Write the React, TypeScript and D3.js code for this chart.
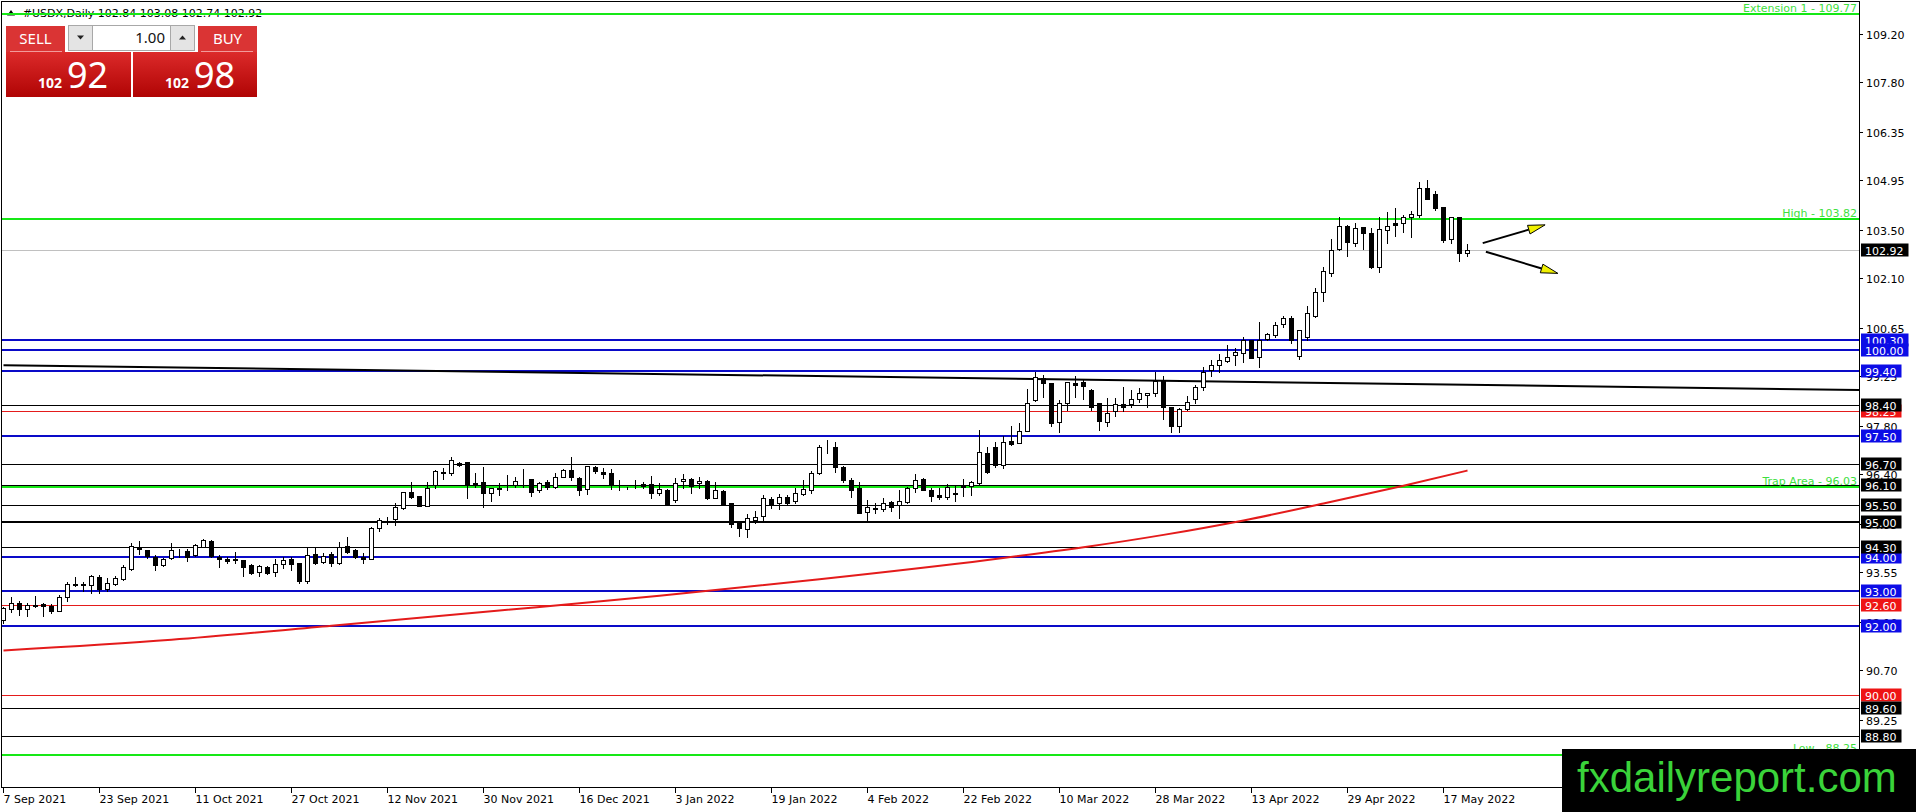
import { useEffect } from "react";
import * as d3 from "d3";

// daily bars, 7 Sep 2021 .. 20 May 2022 (one per weekday)
const opens = [
  92.17, 92.48, 92.65, 92.48, 92.58, 92.62, 92.57, 92.44, 92.83, 93.2,
  93.21, 93.18, 93.41, 93.06, 93.21, 93.35, 93.65, 94.3, 94.2, 94.01,
  93.75, 93.96, 94.19, 94.17, 94.06, 94.3, 94.46, 93.99, 93.95, 93.93,
  93.91, 93.75, 93.57, 93.7, 93.57, 93.79, 93.93, 93.81, 93.31, 94.09,
  93.86, 94.08, 93.81, 94.32, 94.2, 94.01, 93.94, 94.83, 95.07, 95.09,
  95.41, 95.88, 95.77, 95.48, 96.09, 96.45, 96.43, 96.74, 96.76, 96.14,
  96.17, 95.87, 95.98, 96.08, 96.09, 96.25, 96.25, 95.95, 96.17, 96.04,
  96.31, 96.53, 96.28, 95.96, 96.6, 96.48, 96.43, 96.0, 95.99, 96.04,
  96.11, 96.12, 95.87, 95.94, 95.64, 96.22, 96.26, 96.14, 96.21, 95.7,
  95.92, 95.56, 94.98, 94.81, 95.07, 95.2, 95.68, 95.56, 95.73, 95.61,
  95.82, 95.94, 96.43, 97.18, 97.19, 96.6, 96.24, 95.99, 95.3, 95.39,
  95.38, 95.59, 95.51, 95.59, 95.99, 96.25, 95.94, 95.8, 95.75, 95.84,
  96.04, 96.06, 96.16, 97.01, 97.19, 96.67, 97.37, 97.32, 97.67, 98.56,
  99.19, 99.05, 97.93, 98.46, 99.05, 99.07, 98.85, 98.46, 97.93, 98.25,
  98.43, 98.43, 98.58, 98.7, 98.76, 99.12, 98.37, 97.79, 98.29, 98.58,
  98.93, 99.43, 99.58, 99.7, 99.87, 99.92, 100.3, 99.8, 100.32, 100.45,
  100.77, 100.93, 99.85, 100.38, 101.0, 101.71, 102.26, 102.94, 103.62, 103.13,
  103.58, 103.42, 102.42, 103.5, 103.71, 103.7, 103.87, 103.94, 104.71, 104.55,
  104.16, 103.25, 103.87, 102.84,
];
const highs = [
  92.55, 92.83, 92.72, 92.67, 92.86, 92.65, 92.62, 92.9, 93.28, 93.41,
  93.28, 93.48, 93.47, 93.38, 93.43, 93.77, 94.4, 94.46, 94.2, 94.06,
  93.96, 94.4, 94.22, 94.22, 94.38, 94.52, 94.49, 94.06, 93.99, 94.15,
  93.91, 93.79, 93.76, 93.74, 93.93, 93.99, 93.99, 93.83, 94.25, 94.25,
  94.1, 94.15, 94.44, 94.57, 94.22, 94.1, 94.86, 95.14, 95.15, 95.58,
  95.9, 96.19, 95.77, 96.19, 96.53, 96.57, 96.89, 96.76, 96.76, 96.43,
  96.62, 95.99, 96.14, 96.38, 96.33, 96.55, 96.27, 96.19, 96.24, 96.43,
  96.55, 96.89, 96.31, 96.64, 96.64, 96.57, 96.55, 96.24, 96.04, 96.24,
  96.19, 96.35, 96.14, 95.97, 96.28, 96.4, 96.28, 96.33, 96.24, 96.19,
  95.95, 95.58, 95.0, 95.25, 95.32, 95.8, 95.75, 95.83, 95.8, 95.99,
  96.24, 96.51, 97.25, 97.4, 97.35, 96.64, 96.28, 96.19, 95.65, 95.58,
  95.7, 95.61, 95.94, 96.02, 96.4, 96.28, 95.99, 95.99, 96.12, 96.09,
  96.25, 96.21, 97.69, 97.2, 97.35, 97.51, 97.79, 97.9, 98.87, 99.38,
  99.29, 99.05, 98.56, 99.09, 99.26, 99.16, 98.87, 98.48, 98.61, 98.61,
  98.93, 98.85, 98.9, 98.76, 99.36, 99.26, 98.37, 98.32, 98.68, 98.99,
  99.51, 99.72, 99.9, 100.16, 100.06, 100.4, 100.3, 100.84, 100.52, 100.84,
  101.0, 101.0, 100.6, 101.29, 101.81, 102.42, 103.23, 103.87, 103.65, 103.7,
  103.6, 103.55, 103.87, 104.03, 104.13, 103.94, 104.06, 104.91, 104.95, 104.62,
  104.18, 103.87, 103.87, 103.08,
];
const lows = [
  92.07, 92.41, 92.31, 92.27, 92.53, 92.27, 92.38, 92.42, 92.73, 93.14,
  93.02, 92.94, 92.94, 93.02, 93.19, 93.33, 93.62, 94.09, 93.96, 93.62,
  93.74, 93.93, 94.01, 93.89, 94.03, 94.3, 94.01, 93.72, 93.83, 93.81,
  93.45, 93.5, 93.45, 93.5, 93.43, 93.67, 93.62, 93.23, 93.25, 93.79,
  93.81, 93.74, 93.79, 94.12, 93.96, 93.83, 93.93, 94.76, 94.96, 94.93,
  95.38, 95.7, 95.48, 95.48, 95.99, 96.25, 96.38, 96.64, 95.7, 96.04,
  95.46, 95.61, 95.8, 95.95, 96.04, 96.04, 95.77, 95.9, 95.97, 95.99,
  96.31, 96.24, 95.8, 95.83, 96.43, 96.28, 95.96, 95.95, 95.96, 95.99,
  95.99, 95.7, 95.8, 95.51, 95.6, 95.99, 95.85, 95.99, 95.67, 95.7,
  95.51, 94.86, 94.61, 94.59, 94.99, 95.07, 95.43, 95.38, 95.54, 95.56,
  95.8, 95.87, 96.41, 97.01, 96.48, 96.19, 95.75, 95.27, 95.07, 95.29,
  95.34, 95.34, 95.12, 95.56, 95.88, 95.93, 95.63, 95.68, 95.67, 95.61,
  95.77, 95.8, 96.12, 96.43, 96.62, 96.58, 97.25, 97.3, 97.67, 98.54,
  98.66, 97.79, 97.64, 98.27, 98.64, 98.58, 98.27, 97.69, 97.79, 98.1,
  98.25, 98.35, 98.51, 98.37, 98.68, 98.0, 97.64, 97.64, 98.27, 98.46,
  98.85, 99.26, 99.38, 99.67, 99.58, 99.67, 99.77, 99.51, 100.29, 100.4,
  100.67, 100.21, 99.74, 100.3, 100.96, 101.45, 102.17, 102.92, 102.75, 103.04,
  102.94, 102.39, 102.29, 103.13, 103.33, 103.45, 103.29, 103.87, 104.4, 104.08,
  103.16, 103.13, 102.61, 102.74,
];
const closes = [
  92.51, 92.67, 92.48, 92.6, 92.6, 92.57, 92.44, 92.83, 93.2, 93.19,
  93.18, 93.45, 93.06, 93.23, 93.38, 93.7, 94.32, 94.22, 94.04, 93.75,
  93.95, 94.2, 94.21, 94.01, 94.34, 94.49, 94.03, 93.93, 93.89, 93.91,
  93.72, 93.54, 93.73, 93.54, 93.79, 93.91, 93.8, 93.31, 94.06, 93.83,
  94.04, 93.81, 94.28, 94.15, 94.01, 93.94, 94.83, 95.07, 95.08, 95.46,
  95.88, 95.73, 95.48, 95.99, 96.5, 96.48, 96.82, 96.67, 96.09, 96.1,
  95.85, 95.99, 96.0, 96.1, 96.22, 96.26, 95.9, 96.16, 96.02, 96.31,
  96.53, 96.31, 95.95, 96.64, 96.5, 96.41, 96.09, 95.99, 95.99, 96.03,
  96.07, 95.85, 95.96, 95.54, 96.16, 96.25, 96.06, 96.21, 95.7, 95.93,
  95.54, 94.95, 94.83, 95.12, 95.17, 95.7, 95.54, 95.73, 95.58, 95.85,
  95.96, 96.43, 97.19, 97.19, 96.6, 96.24, 95.95, 95.29, 95.46, 95.42,
  95.58, 95.46, 95.63, 95.99, 96.24, 95.94, 95.77, 95.75, 96.02, 95.86,
  96.06, 96.19, 97.06, 96.48, 96.67, 97.35, 97.28, 97.67, 98.46, 99.22,
  99.06, 97.9, 98.48, 99.07, 99.0, 98.98, 98.35, 97.96, 98.17, 98.43,
  98.35, 98.58, 98.76, 98.75, 99.12, 98.37, 97.79, 98.29, 98.51, 98.95,
  99.38, 99.58, 99.72, 99.8, 99.95, 100.3, 99.79, 100.29, 100.48, 100.74,
  100.93, 100.3, 100.58, 101.08, 101.69, 102.31, 102.92, 103.62, 103.16, 103.55,
  103.42, 102.42, 103.52, 103.62, 103.66, 103.87, 103.97, 104.71, 104.4, 104.13,
  103.21, 103.87, 102.82, 102.92,
];

const dateLabels = [
  "7 Sep 2021", "23 Sep 2021", "11 Oct 2021", "27 Oct 2021", "12 Nov 2021",
  "30 Nov 2021", "16 Dec 2021", "3 Jan 2022", "19 Jan 2022", "4 Feb 2022",
  "22 Feb 2022", "10 Mar 2022", "28 Mar 2022", "13 Apr 2022", "29 Apr 2022",
  "17 May 2022",
];
const barsPerDateLabel = 12;

const priceTicks = [
  109.2, 107.8, 106.35, 104.95, 103.5, 102.1, 100.65, 99.25, 97.8, 96.4,
  94.95, 93.55, 92.1, 90.7, 89.25, 87.85,
];

// red moving average, read at a few bars
const maBars = [0, 21, 41, 62, 82, 102, 123, 135, 145, 155, 165, 175, 183];
const maValues = [91.28, 91.59, 92.0, 92.44, 92.87, 93.35, 93.91, 94.28, 94.64, 95.06, 95.55, 96.07, 96.51];

// black trend line, runs to the right edge
const trendBars = [0, 232];
const trendValues = [99.57, 98.85];

const zoneLevels = [109.77, 103.82, 96.03, 88.25];
const zoneNames = ["Extension 1", "High", "Trap Area", "Low"];
const redLevels = [98.25, 92.6, 90.0];
const blueLevels = [100.3, 100.0, 99.4, 97.5, 94.0, 93.0, 92.0];
const blackLevels = [98.4, 96.7, 96.1, 95.5, 94.3, 89.6, 88.8];
const boldBlackLevels = [95.0];
const bidLevel = 102.92;

const arrowBars = [[184.9, 192.7], [185.3, 194.3]];
const arrowValues = [[103.12, 103.65], [102.87, 102.24]];

const ohlcTitle = ["102.84", "103.08", "102.74", "102.92"];

const FONT = "'DejaVu Sans', Tahoma, sans-serif";
const UI_FONT = "'Noto Sans', 'Open Sans', sans-serif";
const GREEN = "#16e816";
const BLUE = "#0a0ac8";
const RED = "#e41b1b";

function App() {
  useEffect(() => {
    document.body.style.margin = "0";
  }, []);

  const width = 1916;
  const height = 812;
  const plotRight = 1859;
  const plotBottom = 788;

  const x = d3.scaleLinear().domain([0, 232]).range([3.5, 3.5 + 8 * 232]);
  const y = d3.scaleLinear().domain([92.0, 109.77]).range([625.7, 14.3]);
  const crisp = (v: number) => Math.round(v) + 0.5;

  const maPath = d3
    .line<number>()
    .x((_, k) => x(maBars[k]))
    .y((d) => y(d))
    .curve(d3.curveMonotoneX)(maValues);

  const trendPath = d3
    .line<number>()
    .x((_, k) => x(trendBars[k]))
    .y((d) => y(d))(trendValues);

  const boxWidth = (t: string) => t.replace(".", "").length * 7 + 3.5 + 9;

  const levelLine = (v: number, color: string, w: number, key: string) => {
    const yy = w % 2 === 1 ? crisp(y(v)) : Math.round(y(v));
    return <line key={key} x1={2} x2={plotRight} y1={yy} y2={yy} stroke={color} strokeWidth={w} />;
  };

  const priceBox = (v: number, fill: string, key: string) => {
    const t = v.toFixed(2);
    const yy = Math.round(y(v));
    return (
      <g key={key}>
        <rect x={1861} y={yy - 6.5} width={boxWidth(t)} height={13} fill={fill} />
        <text x={1865} y={yy + 4.5} fill="#fff" fontSize={11} fontFamily={FONT}>{t}</text>
      </g>
    );
  };

  return (
    <svg width={width} height={height} viewBox={`0 0 ${width} ${height}`} style={{ display: "block", background: "#fff" }}>
      <defs>
        <clipPath id="plot">
          <rect x={2} y={2} width={plotRight - 2} height={plotBottom - 2} />
        </clipPath>
        <linearGradient id="redBig" x1="0" y1="0" x2="0" y2="1">
          <stop offset="0" stopColor="#dc2a2a" />
          <stop offset="1" stopColor="#b00404" />
        </linearGradient>
      </defs>

      {/* title */}
      <path d="M7,15.5 L11,10 L15,15.5 Z" fill="#000" />
      <text x={22.7} y={16.5} fontSize={11} fontFamily={FONT} fill="#000">
        {`#USDX,Daily  ${ohlcTitle.join(" ")}`}
      </text>

      <g clipPath="url(#plot)">
        {/* horizontal levels */}
        {levelLine(bidLevel, "#c0c0c0", 1, "bid")}
        {redLevels.map((v, k) => levelLine(v, RED, 1, `r${k}`))}
        {blackLevels.map((v, k) => levelLine(v, "#000", 1, `k${k}`))}
        {boldBlackLevels.map((v, k) => levelLine(v, "#000", 2, `kb${k}`))}
        {blueLevels.map((v, k) => levelLine(v, BLUE, 2, `b${k}`))}
        {zoneLevels.map((v, k) => levelLine(v, GREEN, 2, `g${k}`))}

        {/* trend line and moving average */}
        <path d={trendPath ?? ""} fill="none" stroke="#000" strokeWidth={2} />
        <path d={maPath ?? ""} fill="none" stroke={RED} strokeWidth={2} />

        {/* candles */}
        {closes.map((c, i) => {
          const o = opens[i];
          const hi = Math.max(highs[i], o, c);
          const lo = Math.min(lows[i], o, c);
          const cx = x(i);
          const top = Math.round(y(Math.max(o, c)));
          const bot = Math.round(y(Math.min(o, c)));
          const bull = c >= o;
          return (
            <g key={i}>
              <line x1={cx} x2={cx} y1={Math.round(y(hi))} y2={Math.round(y(lo)) + 1} stroke="#000" strokeWidth={1} />
              <rect x={cx - 2} y={top + 0.5} width={4} height={Math.max(0, bot - top)} fill={bull ? "#fff" : "#000"} stroke="#000" strokeWidth={1} />
            </g>
          );
        })}

        {/* arrows */}
        {arrowBars.map((b, k) => {
          const x1 = x(b[0]);
          const y1 = y(arrowValues[k][0]);
          const x2 = x(b[1]);
          const y2 = y(arrowValues[k][1]);
          const len = Math.hypot(x2 - x1, y2 - y1);
          const ux = (x2 - x1) / len;
          const uy = (y2 - y1) / len;
          const bx = x2 - 17 * ux;
          const by = y2 - 17 * uy;
          const px = -uy * 4.5;
          const py = ux * 4.5;
          return (
            <g key={`a${k}`}>
              <line x1={x1} y1={y1} x2={bx} y2={by} stroke="#000" strokeWidth={2} />
              <path d={`M${x2},${y2} L${bx + px},${by + py} L${bx - px},${by - py} Z`} fill="#f0f000" stroke="#000" strokeWidth={1} />
            </g>
          );
        })}

        {/* zone labels */}
        {zoneLevels.map((v, k) => (
          <text key={`zt${k}`} x={1857} y={y(v) - 2.5} textAnchor="end" fontSize={11} fontFamily={FONT} fill="#3ee03e">
            {`${zoneNames[k]} - ${v.toFixed(2)}`}
          </text>
        ))}
      </g>

      {/* frame */}
      <line x1={1.5} x2={1.5} y1={1} y2={plotBottom} stroke="#000" />
      <line x1={1.5} x2={plotRight} y1={1.5} y2={1.5} stroke="#000" />
      <line x1={1.5} x2={plotRight + 0.5} y1={plotBottom - 0.5} y2={plotBottom - 0.5} stroke="#000" />
      <line x1={plotRight + 0.5} x2={plotRight + 0.5} y1={1} y2={plotBottom} stroke="#000" />

      {/* price axis */}
      {priceTicks.map((v, k) => {
        const yy = Math.round(y(v)) + 0.5;
        return (
          <g key={`pt${k}`}>
            <line x1={plotRight} x2={plotRight + 4} y1={yy} y2={yy} stroke="#000" />
            <text x={1866} y={yy + 4} fontSize={11} fontFamily={FONT} fill="#000">{v.toFixed(2)}</text>
          </g>
        );
      })}
      {redLevels.map((v, k) => priceBox(v, "#ee1414", `rb${k}`))}
      {blueLevels.map((v, k) => priceBox(v, "#0c0ce6", `bb${k}`))}
      {[...blackLevels, ...boldBlackLevels].map((v, k) => priceBox(v, "#000", `kbx${k}`))}
      {priceBox(bidLevel, "#000", "bidbox")}

      {/* time axis */}
      {dateLabels.map((d, k) => {
        const xx = x(k * barsPerDateLabel);
        return (
          <g key={`d${k}`}>
            <line x1={xx} x2={xx} y1={plotBottom} y2={plotBottom + 5} stroke="#000" />
            <text x={xx} y={802.5} fontSize={11} fontFamily={FONT} fill="#000">{d}</text>
          </g>
        );
      })}

      {/* one-click trading panel */}
      <rect x={6} y={26} width={59} height={26} fill="#da3434" />
      <line x1={10} x2={62} y1={51.5} y2={51.5} stroke="#f29a9a" />
      <rect x={6} y={52} width={125} height={45} fill="url(#redBig)" />
      <rect x={198} y={26} width={59} height={26} fill="#da3434" />
      <line x1={201} x2={253} y1={51.5} y2={51.5} stroke="#f29a9a" />
      <rect x={133} y={52} width={124} height={45} fill="url(#redBig)" />
      <rect x={68.5} y={25.5} width={24} height={25} fill="#e4e4e4" stroke="#a8a8a8" />
      <rect x={92.5} y={25.5} width={78} height={25} fill="#fff" stroke="#a8a8a8" />
      <rect x={170.5} y={25.5} width={24} height={25} fill="#e4e4e4" stroke="#a8a8a8" />
      <path d="M77,35.5 L84,35.5 L80.5,39.5 Z" fill="#222" />
      <path d="M179,39.5 L186,39.5 L182.5,35.5 Z" fill="#222" />
      <text x={35.5} y={44} textAnchor="middle" fontSize={15} fontFamily={UI_FONT} fill="#fff">SELL</text>
      <text x={227.5} y={44} textAnchor="middle" fontSize={15} fontFamily={UI_FONT} fill="#fff">BUY</text>
      <text x={165} y={43} textAnchor="end" fontSize={15} fontFamily={UI_FONT} fill="#111">1.00</text>
      <text x={38} y={88} fontSize={14} fontWeight="bold" fontFamily={UI_FONT} fill="#fff">102</text>
      <text x={67} y={88} fontSize={36} fontFamily={UI_FONT} fill="#fff">92</text>
      <text x={165} y={88} fontSize={14} fontWeight="bold" fontFamily={UI_FONT} fill="#fff">102</text>
      <text x={194} y={88} fontSize={36} fontFamily={UI_FONT} fill="#fff">98</text>

      {/* watermark */}
      <rect x={1562} y={749} width={354} height={63} fill="#000" />
      <text x={1577} y={792} fontSize={42} fontFamily="'Liberation Sans', Arial, sans-serif" fill="#3ad33a">fxdailyreport.com</text>
    </svg>
  );
}

export default App;
